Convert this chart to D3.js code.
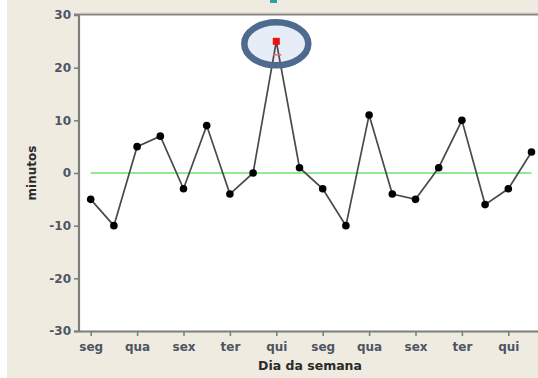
<!DOCTYPE html>
<html><head><meta charset="utf-8">
<script src="https://cdn.jsdelivr.net/npm/d3@7"></script>
<style>html,body{margin:0;padding:0;background:#fff;}svg{display:block;}</style>
</head><body>
<script>
const days = ["seg","ter","qua","qui","sex","seg","ter","qua","qui","sex","seg","ter","qua","qui","sex","seg","ter","qua","qui","sex"];
const minutos = [-5,-10,5,7,-3,9,-4,0,25,1,-3,-10,11,-4,-5,1,10,-6,-3,4];
const yTicks = [-30,-20,-10,0,10,20,30];
const target = 0;
const flaggedIndex = 8;

const W = 538, H = 378;
const svg = d3.select("body").append("svg").attr("width", W).attr("height", H);

// background panels
svg.append("rect").attr("x",7).attr("y",0).attr("width",W-7).attr("height",H).attr("fill","#efebe1");
svg.append("rect").attr("x",270).attr("y",0).attr("width",7).attr("height",3).attr("fill","#2aa3a3");
const plotL = 80, plotR = 538, plotT = 15, plotB = 331;
svg.append("rect").attr("x",plotL).attr("y",plotT).attr("width",plotR-plotL).attr("height",plotB-plotT).attr("fill","#fff");

const idx = d3.range(minutos.length);
const x = d3.scalePoint().domain(idx).range([90.7, 531.5]);
const y = d3.scaleLinear().domain([-30,30]).range([plotB, plotT]);

const font = "'DejaVu Sans', Verdana, sans-serif";

// y axis
const yAxis = svg.append("g").attr("transform",`translate(${plotL-1},0)`)
  .call(d3.axisLeft(y).tickValues(yTicks).tickFormat(d=>String(d)).tickSize(5).tickPadding(3));
yAxis.select(".domain").remove();
yAxis.selectAll(".tick line").attr("stroke","#7a7a7a").attr("stroke-width",1.5);
yAxis.selectAll(".tick text").attr("font-family",font).attr("font-weight","bold")
  .attr("font-size","12px").attr("fill","#4d5563");

// x axis
const xAxis = svg.append("g").attr("transform",`translate(0,${plotB+1})`)
  .call(d3.axisBottom(x).tickValues(idx.filter(i=>i%2===0)).tickFormat(i=>days[i]).tickSize(4).tickPadding(6));
xAxis.select(".domain").remove();
xAxis.selectAll(".tick line").attr("stroke","#7a7a7a").attr("stroke-width",1.5);
xAxis.selectAll(".tick text").attr("font-family",font).attr("font-weight","bold")
  .attr("font-size","12px").attr("fill","#4d5563");

// frame lines
svg.append("line").attr("x1",plotL-1).attr("x2",plotL-1).attr("y1",plotT-1).attr("y2",plotB+1)
  .attr("stroke","#7d7d7d").attr("stroke-width",2.2);
svg.append("line").attr("x1",plotL-6).attr("x2",plotR).attr("y1",plotB+0.5).attr("y2",plotB+0.5)
  .attr("stroke","#7d7d7d").attr("stroke-width",2);
svg.append("line").attr("x1",plotL-6).attr("x2",plotR).attr("y1",plotT-0.5).attr("y2",plotT-0.5)
  .attr("stroke","#858585").attr("stroke-width",2);
svg.append("line").attr("x1",plotL).attr("x2",plotR).attr("y1",plotT-2).attr("y2",plotT-2)
  .attr("stroke","#d2cdc0").attr("stroke-width",1);

// target line
svg.append("line").attr("x1",x(0)).attr("x2",x(minutos.length-1)).attr("y1",y(target)).attr("y2",y(target))
  .attr("stroke","#6fe36f").attr("stroke-width",1.6);

// highlight ellipse fill
const fx = x(flaggedIndex), fy = y(minutos[flaggedIndex]);
svg.append("ellipse").attr("cx",fx).attr("cy",fy+2.5).attr("rx",32).attr("ry",21.5).attr("fill","#e7edf6");

// series line
svg.append("path").datum(idx)
  .attr("d", d3.line().x(i=>x(i)).y(i=>y(minutos[i])))
  .attr("fill","none").attr("stroke","#4a4a4a").attr("stroke-width",1.7);

// points
svg.append("g").selectAll("circle").data(idx.filter(i=>i!==flaggedIndex)).join("circle")
  .attr("cx",i=>x(i)).attr("cy",i=>y(minutos[i])).attr("r",3.8).attr("fill","#000");
svg.append("rect").attr("x",fx-3.5).attr("y",fy-3.5).attr("width",7).attr("height",7).attr("fill","#ee1111");
svg.append("line").attr("x1",fx-3.5).attr("x2",fx+5).attr("y1",fy+13.5).attr("y2",fy+13.5)
  .attr("stroke","#e86a6a").attr("stroke-width",1.5);

// highlight ellipse stroke
svg.append("ellipse").attr("cx",fx).attr("cy",fy+2.5).attr("rx",32).attr("ry",21.5)
  .attr("fill","none").attr("stroke","#4e6a8e").attr("stroke-width",6.5);

// axis titles
svg.append("text").attr("transform",`translate(36,${y(0)}) rotate(-90)`).attr("text-anchor","middle")
  .attr("font-family",font).attr("font-weight","bold").attr("font-size","12px").attr("fill","#2a2a2a").text("minutos");
svg.append("text").attr("x",310).attr("y",370).attr("text-anchor","middle")
  .attr("font-family",font).attr("font-weight","bold").attr("font-size","12.5px").attr("fill","#2a2a2a").text("Dia da semana");
</script>
</body></html>
